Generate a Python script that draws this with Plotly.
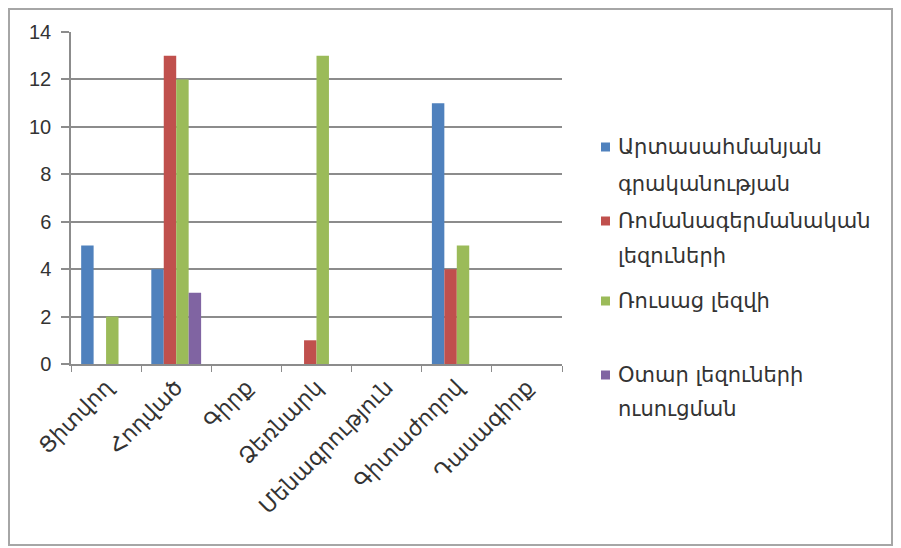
import plotly.graph_objects as go

categories = ["Ցիտվող", "Հոդված", "Գիրք", "Ձեռնարկ", "Մենագրություն", "Գիտաժողով", "Դասագիրք"]
series_names = [
    ["Արտասահմանյան", "գրականության"],
    ["Ռոմանագերմանական", "լեզուների"],
    ["Ռուսաց լեզվի"],
    ["Օտար լեզուների", "ուսուցման"],
]
foreign_lit = [5, 4, 0, 0, 0, 11, 0]
romano_germ = [0, 13, 0, 1, 0, 4, 0]
russian = [2, 12, 0, 13, 0, 5, 0]
teaching = [0, 3, 0, 0, 0, 0, 0]
y_ticks = [0, 2, 4, 6, 8, 10, 12, 14]

colors = ["#4F81BD", "#C0504D", "#9BBB59", "#8064A2"]
values = [foreign_lit, romano_germ, russian, teaching]

OFF = 8  # page body margin
W, H = 901 - OFF, 548 - OFF
L, R, T, B = 71 - OFF, 562 - OFF, 32 - OFF, 364 - OFF
PW, PH = R - L, B - T

def px_x(p):  # page pixel -> paper
    return (p - OFF - L) / PW

def px_y(p):
    return (B - (p - OFF)) / PH

fig = go.Figure()
for name, vals, col in zip(series_names, values, colors):
    fig.add_trace(go.Bar(x=categories, y=vals, name=" ".join(name),
                         marker=dict(color=col, line=dict(width=0)),
                         showlegend=False))

GRID = "#8c8c8c"
fig.update_layout(
    width=W, height=H,
    margin=dict(l=L, r=W - R, t=T, b=H - B),
    paper_bgcolor="white", plot_bgcolor="white",
    barmode="group", bargap=0.29, bargroupgap=0,
    xaxis=dict(
        type="category", showgrid=False, showline=True, linecolor=GRID, linewidth=1.5,
        ticks="outside", tickson="boundaries", ticklen=6, tickcolor=GRID, tickwidth=1,
        tickangle=-45,
        tickfont=dict(family="DejaVu Sans", size=22, color="#333333"),
    ),
    yaxis=dict(
        range=[0, 14], tickvals=y_ticks, showgrid=True, gridcolor=GRID, gridwidth=1.5,
        showline=True, linecolor=GRID, linewidth=1.5, zeroline=False,
        ticks="outside", ticklen=8, tickcolor=GRID, tickwidth=1.5,
        tickfont=dict(family="Liberation Sans", size=20, color="#333333"),
        ticklabelstandoff=6,
    ),
)

# outer chart border
fig.add_shape(type="rect", xref="paper", yref="paper",
              x0=px_x(9), x1=px_x(892), y0=px_y(545), y1=px_y(9),
              line=dict(color="#a6a6a6", width=2), fillcolor="rgba(0,0,0,0)")

# legend (Excel-style, right side)
entry_lines_y = [[147, 184], [221, 256], [301], [375, 409]]
for name, col, ys in zip(series_names, colors, entry_lines_y):
    fig.add_shape(type="rect", xref="paper", yref="paper",
                  x0=px_x(601), x1=px_x(610), y0=px_y(ys[0] + 4.5), y1=px_y(ys[0] - 4.5),
                  line=dict(width=0), fillcolor=col)
    for line_txt, yy in zip(name, ys):
        fig.add_annotation(xref="paper", yref="paper", x=px_x(616), y=px_y(yy),
                           xanchor="left", yanchor="middle", showarrow=False,
                           text=line_txt,
                           font=dict(family="DejaVu Sans", size=21, color="#333333"))

fig.write_html("out.html")
